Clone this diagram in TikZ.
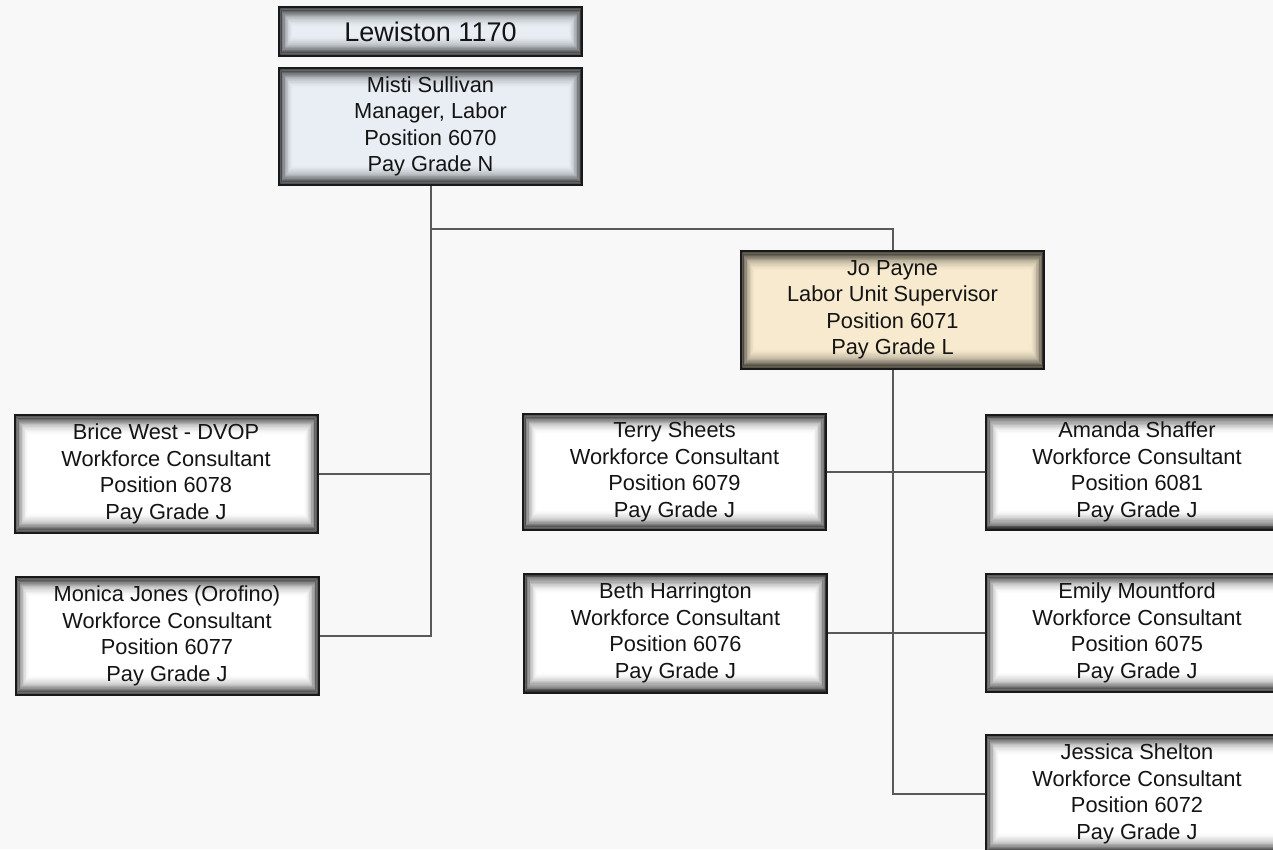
\documentclass[tikz,border=0pt]{standalone}
\usepackage{fontspec}
\setmainfont{Liberation Sans}
\definecolor{headfill}{RGB}{232,238,244}
\definecolor{supfill}{RGB}{247,234,206}
\definecolor{pagebg}{RGB}{248,248,248}
\begin{document}
\begin{tikzpicture}[x=1pt,y=-1pt,
  conn/.style={draw=black!65, line width=2pt},
  card/.style={draw=black!90, line width=2pt, fill=white, inner sep=0pt,
    align=center, text=black!92, font=\fontsize{21.8}{26.5}\selectfont,
    path picture={
      % soft inner shadow: thin non-overlapping rings, deeper at top and bottom
      \foreach \i in {0,...,17}{
        \pgfmathsetmacro{\op}{0.8*(1-\i/18)*(1-\i/18)}
        \pgfmathsetmacro{\ha}{\i*0.75+0.5}
        \pgfmathsetmacro{\va}{\i*1.1+0.5}
        \pgfmathsetmacro{\hb}{\i*0.75+1.25}
        \pgfmathsetmacro{\vb}{\i*1.1+1.6}
        \fill[black, opacity=\op, even odd rule]
          ([shift={(\ha pt,-\va pt)}]path picture bounding box.north west)
          rectangle
          ([shift={(-\ha pt,\va pt)}]path picture bounding box.south east)
          ([shift={(\hb pt,-\vb pt)}]path picture bounding box.north west)
          rectangle
          ([shift={(-\hb pt,\vb pt)}]path picture bounding box.south east);
      }
    }},
  wide/.style={minimum width=303pt, minimum height=#1},
  wide/.default=118pt,
]
\useasboundingbox (0,0) rectangle (1273,849);
\fill[pagebg] (0,0) rectangle (1273,849);

% top of the chart
\node[card, fill=headfill, wide=49pt, font=\fontsize{27}{30}\selectfont] (office) at (430.5,31.5) {Lewiston 1170};
\node[card, fill=headfill, wide=117pt] (misti) at (430.5,126.5) {Misti Sullivan\\Manager, Labor\\Position 6070\\Pay Grade N};
\node[card, fill=supfill, wide] (jo) at (892.5,310) {Jo Payne\\Labor Unit Supervisor\\Position 6071\\Pay Grade L};

% staff reporting to the manager
\node[card, wide] (brice) at (166,474) {Brice West - DVOP\\Workforce Consultant\\Position 6078\\Pay Grade J};
\node[card, wide] (monica) at (167,636) {Monica Jones (Orofino)\\Workforce Consultant\\Position 6077\\Pay Grade J};

% staff reporting to the supervisor
\node[card, wide=116pt] (terry) at (674.5,472) {Terry Sheets\\Workforce Consultant\\Position 6079\\Pay Grade J};
\node[card, wide=119pt] (beth) at (675.5,633) {Beth Harrington\\Workforce Consultant\\Position 6076\\Pay Grade J};
\node[card, wide=115pt] (amanda) at (1137,472) {Amanda Shaffer\\Workforce Consultant\\Position 6081\\Pay Grade J};
\node[card, wide] (emily) at (1137,633) {Emily Mountford\\Workforce Consultant\\Position 6075\\Pay Grade J};
\node[card, wide] (jessica) at (1137,794) {Jessica Shelton\\Workforce Consultant\\Position 6072\\Pay Grade J};

% connectors
\coordinate (branch) at (430.5,229);
\draw[conn] (misti.south) |- (monica.east);
\draw[conn] (brice.east) -- (brice.east -| misti.south);
\draw[conn] (branch) -| (jo.north);
\draw[conn] (jo.south) |- (jessica.west);
\draw[conn] (terry.east) -- (amanda.west);
\draw[conn] (beth.east) -- (emily.west);
\end{tikzpicture}
\end{document}
